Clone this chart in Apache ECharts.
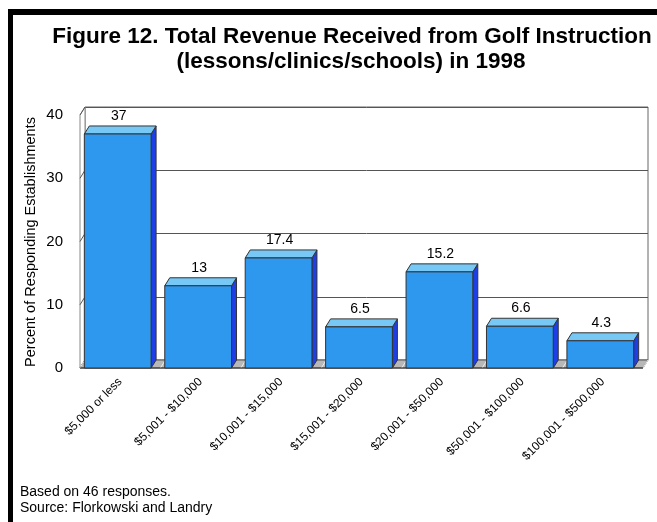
<!DOCTYPE html>
<html><head><meta charset="utf-8">
<script src="https://cdn.jsdelivr.net/npm/echarts@6/dist/echarts.min.js"></script>
<style>html,body{margin:0;padding:0;background:#fff}#c{width:657px;height:522px}</style>
</head><body><div id="c"></div>
<script>
const categories = ['$5,000 or less','$5,001 - $10,000','$10,001 - $15,000','$15,001 - $20,000','$20,001 - $50,000','$50,001 - $100,000','$100,001 - $500,000'];
const values = [37, 13, 17.4, 6.5, 15.2, 6.6, 4.3];
const yTicks = [0, 10, 20, 30, 40];
const titleLines = ['Figure 12. Total Revenue Received from Golf Instruction', '(lessons/clinics/schools) in 1998'];
const yName = 'Percent of Responding Establishments';
const footLines = ['Based on 46 responses.', 'Source: Florkowski and Landry'];

const DX = 5, DY = 8;
const FONT = '"Liberation Sans", Arial, sans-serif';
const chart = echarts.init(document.getElementById('c'), null, {renderer: 'canvas'});

function barItem(params, api) {
  const i = api.value(0), v = api.value(1);
  const base = api.coord([i, 0]);
  const top = api.coord([i, v]);
  const band = api.size([1, 0])[0];
  const w = band * 0.83;
  const x0 = base[0] - w / 2 - DX / 2, x1 = x0 + w;
  const yb = base[1], yt = top[1];
  const stroke = '#333';
  return {type: 'group', children: [
    {type: 'polygon', shape: {points: [[x1, yb], [x1 + DX, yb - DY], [x1 + DX, yt - DY], [x1, yt]]},
     style: {fill: '#1f3fe6', stroke: stroke, lineWidth: 1}},
    {type: 'polygon', shape: {points: [[x0, yt], [x0 + DX, yt - DY], [x1 + DX, yt - DY], [x1, yt]]},
     style: {fill: '#78c8f6', stroke: stroke, lineWidth: 1}},
    {type: 'rect', shape: {x: x0, y: yt, width: w, height: yb - yt},
     style: {fill: '#2e97ee', stroke: stroke, lineWidth: 1}},
    {type: 'text', style: {x: (x0 + x1) / 2 + 1, y: yt - DY - 3, text: String(v), textAlign: 'center', textVerticalAlign: 'bottom',
      fontSize: 14, fontFamily: FONT, fill: '#000'}}
  ]};
}

function floorItem(params, api) {
  const n = categories.length;
  const band = api.size([1, 0])[0];
  const left = api.coord([0, 0])[0] - band / 2;
  const right = api.coord([n - 1, 0])[0] + band / 2;
  const yb = api.coord([0, 0])[1];
  const ytop = api.coord([0, yTicks[yTicks.length - 1]])[1];
  const ch = [];
  ch.push({type: 'polygon', shape: {points: [[left, yb], [left, ytop], [left + DX, ytop - DY], [left + DX, yb - DY]]},
    style: {fill: '#fff', stroke: '#888', lineWidth: 1}});
  yTicks.forEach(t => {
    const y = api.coord([0, t])[1];
    ch.push({type: 'line', shape: {x1: left, y1: y, x2: left + DX, y2: y - DY}, style: {stroke: '#555', lineWidth: 1}});
  });
  ch.push({type: 'polygon', shape: {points: [[left, yb], [left + DX, yb - DY], [right + DX, yb - DY], [right, yb]]},
    style: {fill: '#b8b8b8', stroke: '#555', lineWidth: 1}});
  for (let k = 0; k <= n; k++) {
    const x = left + band * k;
    ch.push({type: 'line', shape: {x1: x, y1: yb, x2: x + DX, y2: yb - DY}, style: {stroke: '#eee', lineWidth: 1}});
  }
  ch.push({type: 'line', shape: {x1: left, y1: yb, x2: right, y2: yb}, style: {stroke: '#333', lineWidth: 1}});
  return {type: 'group', children: ch};
}

chart.setOption({
  animation: false,
  backgroundColor: '#fff',
  grid: [
    {left: 80, right: 14, top: 115, bottom: 154},
    {left: 80 + DX, right: 14 - DX, top: 115 - DY, bottom: 154 + DY, show: true, borderColor: '#666', borderWidth: 1, backgroundColor: '#fff'}
  ],
  xAxis: [
    {type: 'category', gridIndex: 0, data: categories, axisLine: {show: false}, axisTick: {show: false},
     axisLabel: {rotate: 45, interval: 0, fontSize: 12, fontFamily: FONT, color: '#000', margin: 12}},
    {type: 'category', gridIndex: 1, data: categories, show: false}
  ],
  yAxis: [
    {type: 'value', gridIndex: 0, min: 0, max: 40, interval: 10, axisLine: {show: false}, axisTick: {show: false},
     splitLine: {show: false}, axisLabel: {fontSize: 15, fontFamily: FONT, color: '#000', margin: 17}},
    {type: 'value', gridIndex: 1, min: 0, max: 40, interval: 10, axisLine: {show: false}, axisTick: {show: false},
     axisLabel: {show: false}, splitLine: {show: true, lineStyle: {color: '#555', width: 1}}}
  ],
  series: [
    {type: 'custom', xAxisIndex: 0, yAxisIndex: 0, data: [[0, 0]], renderItem: floorItem, z: 2, silent: true},
    {type: 'custom', xAxisIndex: 0, yAxisIndex: 0, data: values.map((v, i) => [i, v]), renderItem: barItem, z: 3,
     encode: {x: 0, y: 1}}
  ],
  graphic: [
    {type: 'rect', shape: {x: 8, y: 9, width: 649, height: 6}, style: {fill: '#000'}},
    {type: 'rect', shape: {x: 8, y: 9, width: 5, height: 513}, style: {fill: '#000'}},
    {type: 'text', style: {x: 352, y: 37, text: titleLines[0], textAlign: 'center', textVerticalAlign: 'middle', font: 'bold 22.5px ' + FONT, fill: '#000'}},
    {type: 'text', style: {x: 351, y: 62, text: titleLines[1], textAlign: 'center', textVerticalAlign: 'middle', font: 'bold 22.5px ' + FONT, fill: '#000'}},
    {type: 'text', rotation: Math.PI / 2, x: 31, y: 242, style: {x: 0, y: 0, text: yName, textAlign: 'center', textVerticalAlign: 'middle', font: '14.5px ' + FONT, fill: '#000'}},
    {type: 'text', style: {x: 20, y: 492, text: footLines[0], textVerticalAlign: 'middle', font: '14px ' + FONT, fill: '#000'}},
    {type: 'text', style: {x: 20, y: 508, text: footLines[1], textVerticalAlign: 'middle', font: '14px ' + FONT, fill: '#000'}}
  ]
});
</script></body></html>
